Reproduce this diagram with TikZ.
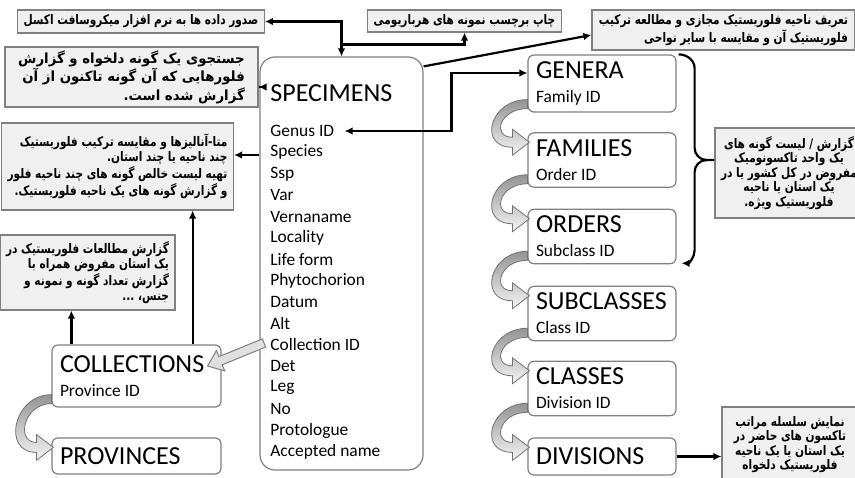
\documentclass[tikz,border=0pt]{standalone}
\usepackage{fontspec}
\setmainfont{Carlito}
\newfontfamily\fa[Script=Arabic, FakeStretch=0.8]{DejaVu Sans}
\newfontfamily\fawide[Script=Arabic, FakeStretch=0.95]{DejaVu Sans}
\TeXXeTstate=1
\usepackage{tikz}
\usetikzlibrary{arrows.meta}
\usetikzlibrary{calc}
\usetikzlibrary{positioning}

\definecolor{boxline}{RGB}{128,128,128}
\definecolor{notefill}{RGB}{240,240,240}

\newcommand{\rl}[1]{\beginR #1\endR}
\newcommand{\tname}{\fontsize{13}{14}\selectfont}
\newcommand{\fname}{\fontsize{8.7}{10.5}\selectfont}

% fat curved arrow from one table to the next
\newcommand{\bendarrow}[2]{%
  \shadedraw[band] ($(#1.south west)+(0,-13)$)
    .. controls ($(#1.south west)+(-38,-13)$) and ($(#2.north west)+(-50,15)$) .. ($(#2.north west)+(-15,15)$)
    -- ($(#2.north west)+(-15,23)$) -- ($(#2.north west)+(2,10)$) -- ($(#2.north west)+(-15,-3)$)
    -- ($(#2.north west)+(-15,5)$)
    .. controls ($(#2.north west)+(-36,5)$) and ($(#1.south west)+(-28,-4)$) .. ($(#1.south west)+(0,-4)$)
    -- cycle;}

% straight block arrow
\newcommand{\blockarrow}[2]{%
  \coordinate (hb) at ($(#2)!7pt!(#1)$);
  \filldraw[blk] ($(#1)!2.2pt!90:(#2)$) -- ($(hb)!2.2pt!90:(#2)$) -- ($(hb)!5.5pt!90:(#2)$)
    -- (#2) -- ($(hb)!5.5pt!-90:(#2)$) -- ($(hb)!2.2pt!-90:(#2)$) -- ($(#1)!2.2pt!-90:(#2)$) -- cycle;}

\tikzset{
  note/.style={draw=boxline, fill=notefill, line width=0.6pt, align=right,
    font=\fa\bfseries\fontsize{6.6}{7.3}\selectfont, inner xsep=3pt, inner ysep=1pt},
  tbl/.style={draw=boxline, fill=white, line width=0.6pt},
  taxbox/.style={tbl, rounded corners=3pt, minimum width=74pt, minimum height=26.5pt,
    text width=66pt, align=flush left, inner xsep=4pt},
  fld/.style={font=\fontsize{8.7}{10}\selectfont, inner sep=0pt},
  conn/.style={line width=1.1pt},
  band/.style={top color=black!42, bottom color=black!4, draw=black!55, line width=0.4pt},
  blk/.style={fill=black!12, draw=black!50, line width=0.5pt},
}

\begin{document}
\begin{tikzpicture}[x=0.5pt, y=-0.5pt, >={Latex[length=4pt,width=3.8pt]}]
  \useasboundingbox (0,0) rectangle (855,477);

  % report boxes
  \node[note, minimum width=116pt, minimum height=11.5pt] (excel) at (141,21.5)
    {\rl{صدور داده ها به نرم افزار میکروسافت اکسل}};
  \node[note, minimum width=92.5pt, minimum height=11pt] (label) at (464.5,21)
    {\rl{چاپ برچسب نمونه های هرباریومی}};
  \node[note, minimum width=131.5pt, minimum height=20pt] (virtual) at (723.5,30)
    {\rl{تعریف ناحیه فلوریستیک مجازی و مطالعه ترکیب}\\\rl{فلوریستیک آن و مقایسه با سایر نواحی}};
  \node[note, minimum width=126.5pt, minimum height=30pt, font=\fawide\bfseries\fontsize{7}{7.5}\selectfont] (search) at (131.5,77)
    {\rl{جستجوی یک گونه دلخواه و گزارش}\\\rl{فلورهایی که آن گونه تاکنون از آن}\\\rl{گزارش شده است.}};
  \node[note, minimum width=112.5pt, minimum height=43.5pt] (meta) at (117.5,166.5)
    {\rl{متا-آنالیزها و مقایسه ترکیب فلوریستیک}\\\rl{چند ناحیه یا چند استان.}\\\rl{تهیه لیست خالص گونه های چند ناحیه فلور}\\\rl{و گزارش گونه های یک ناحیه فلوریستیک.}};
  \node[note, minimum width=82.5pt, minimum height=37.5pt] (provrep) at (87.5,272.5)
    {\rl{گزارش مطالعات فلوریستیک در}\\\rl{یک استان مفروض همراه با}\\\rl{گزارش تعداد گونه و نمونه و}\\\rl{جنس، ...}};
  \node[note, minimum width=67pt, minimum height=45pt, align=center] (taxrep) at (789,173)
    {\rl{گزارش / لیست گونه های}\\\rl{یک واحد تاکسونومیک}\\\rl{مفروض در کل کشور یا در}\\\rl{یک استان یا ناحیه}\\\rl{فلوریستیک ویژه.}};
  \node[note, minimum width=68pt, minimum height=37.5pt, align=center] (hier) at (790,444.5)
    {\rl{نمایش سلسله مراتب}\\\rl{تاکسون های حاضر در}\\\rl{یک استان یا یک ناحیه}\\\rl{فلوریستیک دلخواه}};

  % specimens table
  \node[tbl, minimum width=81.5pt, minimum height=206.5pt, rounded corners=7.5pt] (specimens) at (341.5,263.5) {};
  \node[font=\tname, inner sep=0pt, anchor=west] (spectitle) at (270,93) {SPECIMENS};
  \foreach \f [count=\i] in {Genus ID, Species, Ssp, Var, Vernaname, Locality, Life form,
      Phytochorion, Datum, Alt, Collection ID, Det, Leg, No, Protologue, Accepted name}
    \node[fld, anchor=west] (f\i) at (270,{131+21.4*(\i-1)}) {\f};

  % taxa tables
  \node[taxbox] (genera) at (602,83.5) {\tname GENERA\\\fname Family ID};
  \node[taxbox] (families) at (602,160) {\tname FAMILIES\\\fname Order ID};
  \node[taxbox] (orders) at (602,236.5) {\tname ORDERS\\\fname Subclass ID};
  \node[taxbox] (subclasses) at (602,313.5) {\tname SUBCLASSES\\\fname Class ID};
  \node[taxbox] (classes) at (602,388.5) {\tname CLASSES\\\fname Division ID};
  \node[taxbox, minimum height=18.5pt] (divisions) at (602,456.5) {\tname DIVISIONS};

  % collections tables
  \node[taxbox, minimum width=84.5pt, text width=76.5pt, minimum height=31pt] (collections) at (136.5,376)
    {\tname COLLECTIONS\\\fname Province ID};
  \node[taxbox, minimum width=84.5pt, text width=76.5pt, minimum height=18pt] (provinces) at (136.5,456)
    {\tname PROVINCES};

  % links between tables
  \bendarrow{genera}{families}
  \bendarrow{families}{orders}
  \bendarrow{orders}{subclasses}
  \bendarrow{subclasses}{classes}
  \bendarrow{classes}{divisions}
  \bendarrow{collections}{provinces}
  \blockarrow{$(f11.west)+(-6,-2)$}{$(collections.east)+(-14,-10)$}

  % outputs
  \draw[conn, <->] (excel.east) -| (specimens.north);
  \coordinate (s1) at ($(specimens.north)+(0,-12)$);
  \draw[conn, ->] (s1) -| (label.south);
  \draw[conn, ->] ($(specimens.north east)+(0,10)$) -- ($(virtual.west)+(0,5)$);
  \draw[conn, ->] ($(specimens.west |- search.east)+(0,10)$) -- ($(search.east)+(0,10)$);
  \draw[conn, ->] ($(specimens.west |- meta.east)+(0,-11.5)$) -- ($(meta.east)+(0,-11.5)$);
  \coordinate (c1) at ($(collections.north west)+(20,0)$);
  \coordinate (c2) at ($(collections.north east)+(-29,0)$);
  \draw[conn, ->] (c1) -- (c1 |- provrep.south);
  \draw[conn, ->] (c2) -- (c2 |- meta.south);
  \coordinate (g1) at ($(f1.east)+(10,0)$);
  \draw[conn, <->] (g1) -| ($(genera.west)+(-76,-10.5)$) -- ($(genera.west)+(0,-10.5)$);
  \draw[conn, ->] (divisions.east) -- (divisions.east -| hier.west);

  % brace over genera .. orders
  \coordinate (bt) at ($(genera.north east)+(2,0)$);
  \coordinate (bm) at ($(genera.east)!0.5!(orders.east)+(30,0)$);
  \draw[conn] (bt) to[out=0, in=90] ++(16,14) -- ($(bm)+(-12,-12)$) to[out=-90, in=180] (bm)
    -- (bm -| taxrep.west);
  \draw[conn, ->] (bm) to[out=180, in=90] ++(-12,12) -- ($(orders.south east)+(18,-14)$)
    to[out=-90, in=0] ($(orders.south east)+(5,-1)$);
\end{tikzpicture}
\end{document}
